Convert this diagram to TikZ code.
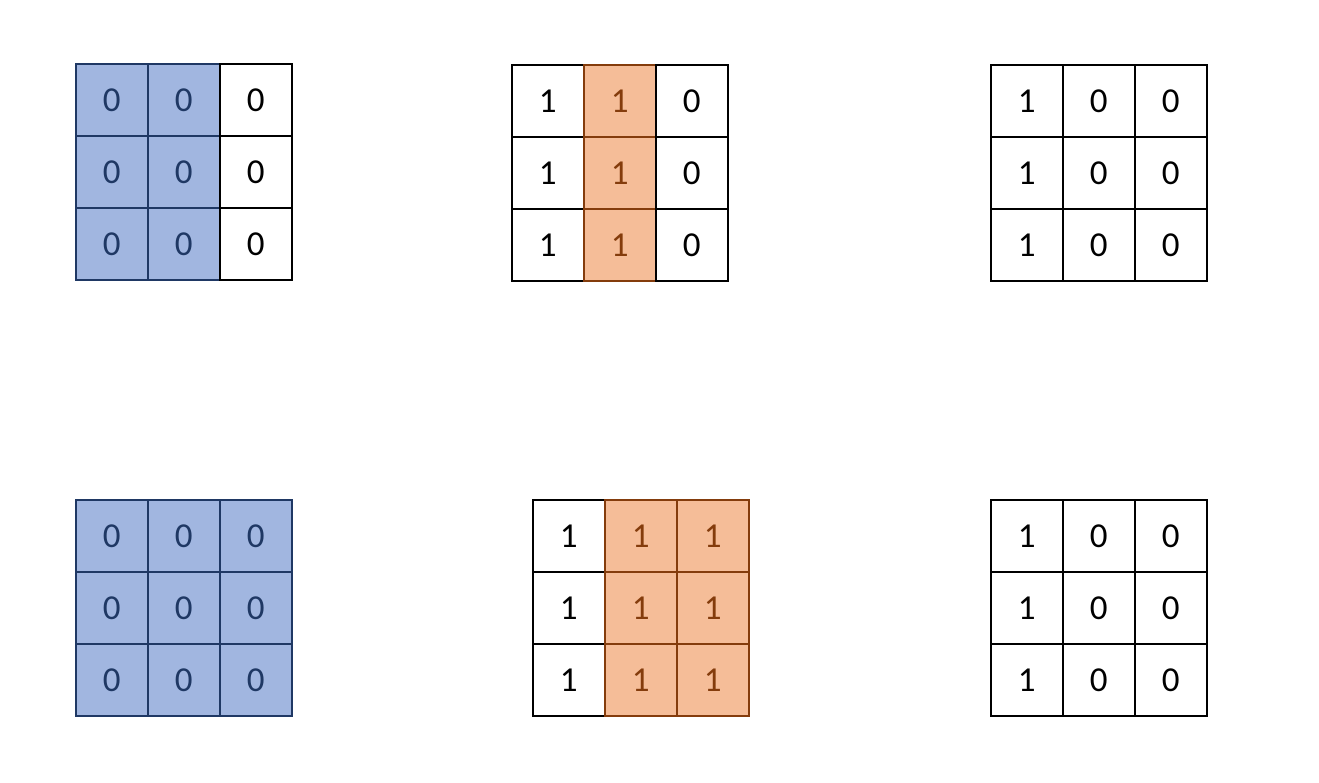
\documentclass[tikz,border=0pt]{standalone}
\usepackage{fontspec}
\setmainfont{Carlito}
\definecolor{bfill}{HTML}{A1B6E0}
\definecolor{bline}{HTML}{1F3864}
\definecolor{ofill}{HTML}{F5BD98}
\definecolor{oline}{HTML}{843C0C}
\tikzset{
  x=1pt, y=-1pt,
  cell/.style={draw=black, line width=1.6pt, minimum size=72pt, inner sep=0pt, anchor=north west,
    font=\fontsize{35}{40}\selectfont, text=black, fill=white},
  bcell/.style={cell, fill=bfill, draw=bline, text=bline},
  ocell/.style={cell, fill=ofill, draw=oline, text=oline},
}
\newcommand{\mygrid}[4]{% name, x, y, list of style/text entries row-major
  \foreach [count=\i from 0] \s/\t in {#4} {
    \pgfmathtruncatemacro{\r}{int(\i/3)}
    \pgfmathtruncatemacro{\c}{mod(\i,3)}
    \node[\s] (#1-\r-\c) at ({#2+72*\c},{#3+72*\r}) {\t};
  }
}
\begin{document}
\begin{tikzpicture}
\useasboundingbox (0,0) rectangle (1319,782);
\mygrid{g1}{75}{63}{bcell/0,bcell/0,cell/0,bcell/0,bcell/0,cell/0,bcell/0,bcell/0,cell/0}
\mygrid{g2}{511}{64}{cell/1,ocell/1,cell/0,cell/1,ocell/1,cell/0,cell/1,ocell/1,cell/0}
\mygrid{g3}{990}{64}{cell/1,cell/0,cell/0,cell/1,cell/0,cell/0,cell/1,cell/0,cell/0}
\mygrid{g4}{75}{499}{bcell/0,bcell/0,bcell/0,bcell/0,bcell/0,bcell/0,bcell/0,bcell/0,bcell/0}
\mygrid{g5}{532}{499}{cell/1,ocell/1,ocell/1,cell/1,ocell/1,ocell/1,cell/1,ocell/1,ocell/1}
\mygrid{g6}{990}{499}{cell/1,cell/0,cell/0,cell/1,cell/0,cell/0,cell/1,cell/0,cell/0}
\end{tikzpicture}
\end{document}
